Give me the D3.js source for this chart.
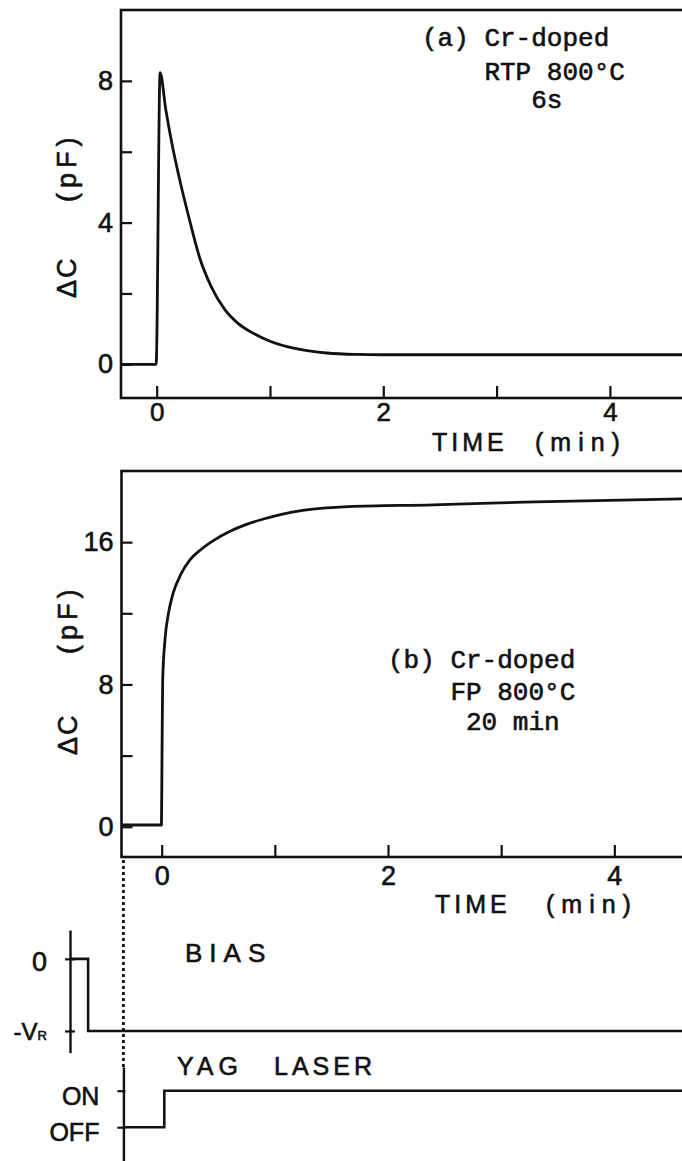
<!DOCTYPE html>
<meta charset="utf-8">
<style>
  body { margin: 0; background: #fff; }
  svg { display: block; background: #fff; }
  .lbl { font-family: "Liberation Sans", Arial, sans-serif; fill: #111; stroke: #111; stroke-width: 0.6px; }
  .note { font-family: "Liberation Mono", "Courier New", monospace; fill: #111; stroke: #111; stroke-width: 0.6px; white-space: pre; }
</style>
<body>
<div id="chart"></div>
<script src="https://cdn.jsdelivr.net/npm/d3@7/dist/d3.min.js"></script>
<script>
  // panel (a): Cr-doped, RTP 800°C 6s  (time in min, dC in pF)
  var timeA = [-0.315, -0.005, 0.03, 0.08, 0.13, 0.2, 0.28, 0.38, 0.48, 0.6, 0.72, 0.85, 1.0, 1.15, 1.3, 1.5, 1.75, 2.0, 3.0, 4.0, 4.7];
  var capA  = [0, 0, 8.23, 7.2, 6.3, 5.25, 4.2, 3.0, 2.2, 1.55, 1.15, 0.88, 0.65, 0.5, 0.4, 0.32, 0.28, 0.27, 0.27, 0.27, 0.27];

  // panel (b): Cr-doped, FP 800°C 20 min
  var timeB = [-0.355, -0.002, 0.003, 0.009, 0.029, 0.06, 0.1, 0.17, 0.25, 0.35, 0.46, 0.6, 0.75, 0.9, 1.05, 1.26, 1.65, 2.4, 3.2, 4.7];
  var capB  = [0.1, 0.1, 4.0, 8.25, 10.5, 12.0, 13.1, 14.2, 15.0, 15.6, 16.1, 16.6, 17.0, 17.3, 17.55, 17.8, 18.0, 18.1, 18.25, 18.45];

  // timing diagram (bias: 0 / -VR, laser: OFF / ON)
  var biasTime   = [-0.81, -0.65, -0.65, 4.66];
  var biasLevel  = [0, 0, -1, -1];
  var laserTime  = [-0.338, 0.023, 0.023, 4.7];
  var laserLevel = [0, 0, 1, 1];

  var xTicks  = [0, 1, 2, 3, 4];
  var yTicksA = [0, 2, 4, 6, 8];
  var yTicksB = [0, 4, 8, 12, 16];

  var W = 682, H = 1161;

  var svg = d3.select("#chart").append("svg")
    .attr("width", W)
    .attr("height", H);

  var xA = d3.scaleLinear().domain([-0.315, 5]).range([121, 723.2]);
  var yA = d3.scaleLinear().domain([-0.95, 10]).range([398, 10]);
  var xB = d3.scaleLinear().domain([-0.355, 5]).range([121.5, 727.5]);
  var yB = d3.scaleLinear().domain([-1.7, 20]).range([857, 471]);
  var yBias = d3.scaleLinear().domain([-1.3, 0.4]).range([1052.6, 930]);
  var yLaser = d3.scaleLinear().domain([-1.2, 1.65]).range([1171, 1067]);

  function panel(x, y, ts, vs, yTicks, every, timeLbl, pad, xFont) {
    var g = svg.append("g");

    // frame
    g.append("rect")
      .attr("x", x.range()[0])
      .attr("y", y.range()[1])
      .attr("width", x.range()[1] - x.range()[0])
      .attr("height", y.range()[0] - y.range()[1])
      .attr("fill", "none")
      .attr("stroke", "#111")
      .attr("stroke-width", 2.6);

    var xAxis = d3.axisBottom(x)
      .tickValues(xTicks)
      .tickFormat(function(d) { return d % 2 === 0 ? d : ""; })
      .tickSizeInner(-12)
      .tickSizeOuter(0)
      .tickPadding(pad);
    var gx = g.append("g")
      .attr("transform", "translate(0," + y.range()[0] + ")")
      .call(xAxis);

    var yAxis = d3.axisLeft(y)
      .tickValues(yTicks)
      .tickFormat(function(d) { return d % every === 0 ? d : ""; })
      .tickSizeInner(-11)
      .tickSizeOuter(0)
      .tickPadding(8);
    var gy = g.append("g")
      .attr("transform", "translate(" + x.range()[0] + ",0)")
      .call(yAxis);

    [gx, gy].forEach(function(a) {
      a.select(".domain").remove();
      a.selectAll(".tick line").attr("stroke", "#111").attr("stroke-width", 2.2);
      a.selectAll(".tick text")
        .attr("class", "lbl")
        .attr("font-family", null)
        .style("font-size", "27px");
    });
    gx.selectAll(".tick text").style("font-size", xFont + "px");

    var line = d3.line()
      .x(function(d) { return x(d[0]); })
      .y(function(d) { return y(d[1]); })
      .curve(d3.curveMonotoneX);

    g.append("path")
      .datum(d3.zip(ts, vs))
      .attr("d", line)
      .attr("fill", "none")
      .attr("stroke", "#111")
      .attr("stroke-width", 2.8)
      .attr("stroke-linejoin", "round");

    // TIME (min)
    g.append("text").attr("class", "lbl")
      .attr("x", timeLbl[0]).attr("y", timeLbl[2])
      .style("font-size", "25px").style("letter-spacing", "4px")
      .text("TIME");
    g.append("text").attr("class", "lbl")
      .attr("x", timeLbl[1]).attr("y", timeLbl[2])
      .style("font-size", "25px").style("letter-spacing", "7px")
      .text("(min)");
    return g;
  }

  panel(xA, yA, timeA, capA, yTicksA, 4, [432, 535, 451], 5, 26);
  panel(xB, yB, timeB, capB, yTicksB, 8, [435, 546, 913], 9, 27);

  // y axis titles
  function yTitle(bx, yDelta, yUnit) {
    svg.append("text").attr("class", "lbl")
      .attr("transform", "translate(" + bx + "," + yDelta + ") rotate(-90)")
      .style("font-size", "27px").style("letter-spacing", "2px")
      .text("\u0394C");
    svg.append("text").attr("class", "lbl")
      .attr("transform", "translate(" + bx + "," + yUnit + ") rotate(-90)")
      .style("font-size", "27px").style("letter-spacing", "5px")
      .text("(pF)");
  }
  yTitle(76, 298, 202);
  yTitle(77, 755, 654);

  // sample notes
  function note(x0, y0, lines) {
    var t = svg.append("text").attr("class", "note")
      .attr("xml:space", "preserve")
      .style("font-size", "26px");
    lines.forEach(function(s, i) {
      t.append("tspan").attr("x", x0).attr("y", y0[i]).text(s);
    });
  }
  note(422, [46, 80, 108], ["(a) Cr-doped", "    RTP 800\u00b0C", "       6s"]);
  note(388, [668, 700, 730], ["(b) Cr-doped", "    FP 800\u00b0C", "     20 min"]);

  // ---- timing diagram ----
  var step = d3.line()
    .x(function(d) { return xB(d[0]); })
    .y(function(d) { return d[1]; });

  // dotted guide from panel (b) axis down to laser axis
  var xGuide = xB(laserTime[0]);
  svg.append("line")
    .attr("x1", xGuide).attr("x2", xGuide)
    .attr("y1", yB.range()[0] + 3).attr("y2", yLaser.range()[1])
    .attr("stroke", "#111").attr("stroke-width", 2.8)
    .attr("stroke-dasharray", "3,3");

  // bias axis
  var biasAxis = d3.axisLeft(yBias)
    .tickValues([-1, 0])
    .tickFormat(function(d) { return d === 0 ? "0" : ""; })
    .tickSizeInner(5)
    .tickSizeOuter(0)
    .tickPadding(18);
  var gb = svg.append("g")
    .attr("transform", "translate(" + xB(biasTime[0]) + ",0)")
    .call(biasAxis);
  gb.select(".domain").attr("stroke", "#111").attr("stroke-width", 2.4);
  gb.selectAll(".tick line").attr("x1", 5).attr("x2", -5).attr("stroke", "#111").attr("stroke-width", 2.2);
  gb.selectAll(".tick text").attr("class", "lbl").attr("font-family", null)
    .style("font-size", "27px").attr("dy", "0.42em");
  var vr = gb.selectAll(".tick text").filter(function(d) { return d === -1; })
    .style("font-size", "24px").attr("dy", "0.35em");
  vr.append("tspan").text("-V");
  vr.append("tspan").style("font-size", "13px").text("R");

  svg.append("path")
    .datum(d3.zip(biasTime, biasLevel.map(function(v) { return yBias(v); })))
    .attr("d", step)
    .attr("fill", "none").attr("stroke", "#111").attr("stroke-width", 2.6);

  svg.append("text").attr("class", "lbl")
    .attr("x", 185).attr("y", 962)
    .style("font-size", "26px").style("letter-spacing", "7px")
    .text("BIAS");

  // laser axis
  var laserAxis = d3.axisLeft(yLaser)
    .tickValues([0, 1])
    .tickFormat(function(d) { return d ? "ON" : "OFF"; })
    .tickSizeInner(6)
    .tickSizeOuter(0)
    .tickPadding(18);
  var gl = svg.append("g")
    .attr("transform", "translate(" + xGuide + ",0)")
    .call(laserAxis);
  gl.select(".domain").attr("stroke", "#111").attr("stroke-width", 2.4);
  gl.selectAll(".tick line").attr("x1", 2).attr("x2", -6).attr("stroke", "#111").attr("stroke-width", 2.2);
  gl.selectAll(".tick text").attr("class", "lbl").attr("font-family", null)
    .style("font-size", "25px").attr("dy", "0.55em");

  svg.append("path")
    .datum(d3.zip(laserTime, laserLevel.map(function(v) { return yLaser(v); })))
    .attr("d", step)
    .attr("fill", "none").attr("stroke", "#111").attr("stroke-width", 2.6);

  svg.append("text").attr("class", "lbl")
    .attr("x", 177).attr("y", 1075)
    .style("font-size", "25px").style("letter-spacing", "5px")
    .text("YAG");
  svg.append("text").attr("class", "lbl")
    .attr("x", 274).attr("y", 1075)
    .style("font-size", "25px").style("letter-spacing", "4px")
    .text("LASER");
</script>
</body>
